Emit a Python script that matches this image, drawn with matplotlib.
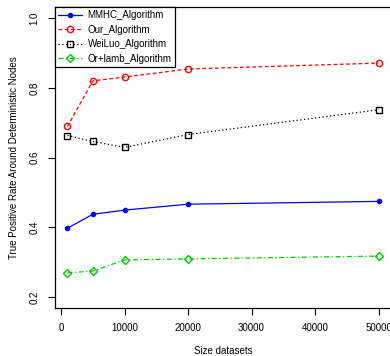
import matplotlib
matplotlib.use('Agg')
import matplotlib.pyplot as plt

sizes = [1000, 5000, 10000, 20000, 50000]
mmhc = [0.397, 0.437, 0.449, 0.466, 0.474]
ours = [0.689, 0.820, 0.831, 0.854, 0.871]
weiluo = [0.663, 0.646, 0.629, 0.666, 0.737]
orlamb = [0.269, 0.274, 0.306, 0.309, 0.317]
x_ticks = [0, 10000, 20000, 30000, 40000, 50000]
y_ticks = [0.2, 0.4, 0.6, 0.8, 1.0]

plt.rcParams['font.family'] = ['Liberation Sans', 'DejaVu Sans']
plt.rcParams['font.size'] = 7

fig = plt.figure(figsize=(3.9, 3.56), dpi=100)
ax = fig.add_axes([55 / 390, 48 / 356, 336 / 390, 301 / 356])

ax.plot(sizes, mmhc, color='blue', linestyle='-', linewidth=0.9,
        marker='o', markersize=3, label='MMHC_Algorithm')
ax.plot(sizes, ours, color='red', linestyle=(0, (3, 2)), linewidth=0.9,
        marker='o', markersize=4.5, markerfacecolor='none', label='Our_Algorithm')
ax.plot(sizes, weiluo, color='black', linestyle=(0, (1, 2)), linewidth=0.9,
        marker='s', markersize=4, markerfacecolor='none', label='WeiLuo_Algorithm')
ax.plot(sizes, orlamb, color='#00cd00', linestyle=(0, (4, 2, 1, 2)), linewidth=0.9,
        marker='D', markersize=4, markerfacecolor='none', label='Or+lamb_Algorithm')

xr = sizes[-1] - sizes[0]
ax.set_xlim(sizes[0] - 0.04 * xr, sizes[-1] + 0.04 * xr)
ax.set_ylim(0.2 - 0.032, 1.0 + 0.032)
ax.set_xticks(x_ticks)
ax.set_xticklabels([str(t) for t in x_ticks])
ax.set_yticks(y_ticks)
ax.set_yticklabels([str(t) for t in y_ticks], rotation=90, va='center')
ax.tick_params(direction='out', length=5, width=0.8, pad=6)

for s in ax.spines.values():
    s.set_linewidth(0.9)

ax.set_xlabel('Size datasets', labelpad=9)
ax.set_ylabel('True Positive Rate Around Deterministic Nodes', labelpad=8)

leg = ax.legend(loc='upper left', borderaxespad=0, fancybox=False,
                edgecolor='black', framealpha=1, handlelength=2.4,
                handletextpad=0.6, labelspacing=0.45, borderpad=0.35)
leg.get_frame().set_linewidth(0.9)

fig.savefig('out.png', dpi=100)
